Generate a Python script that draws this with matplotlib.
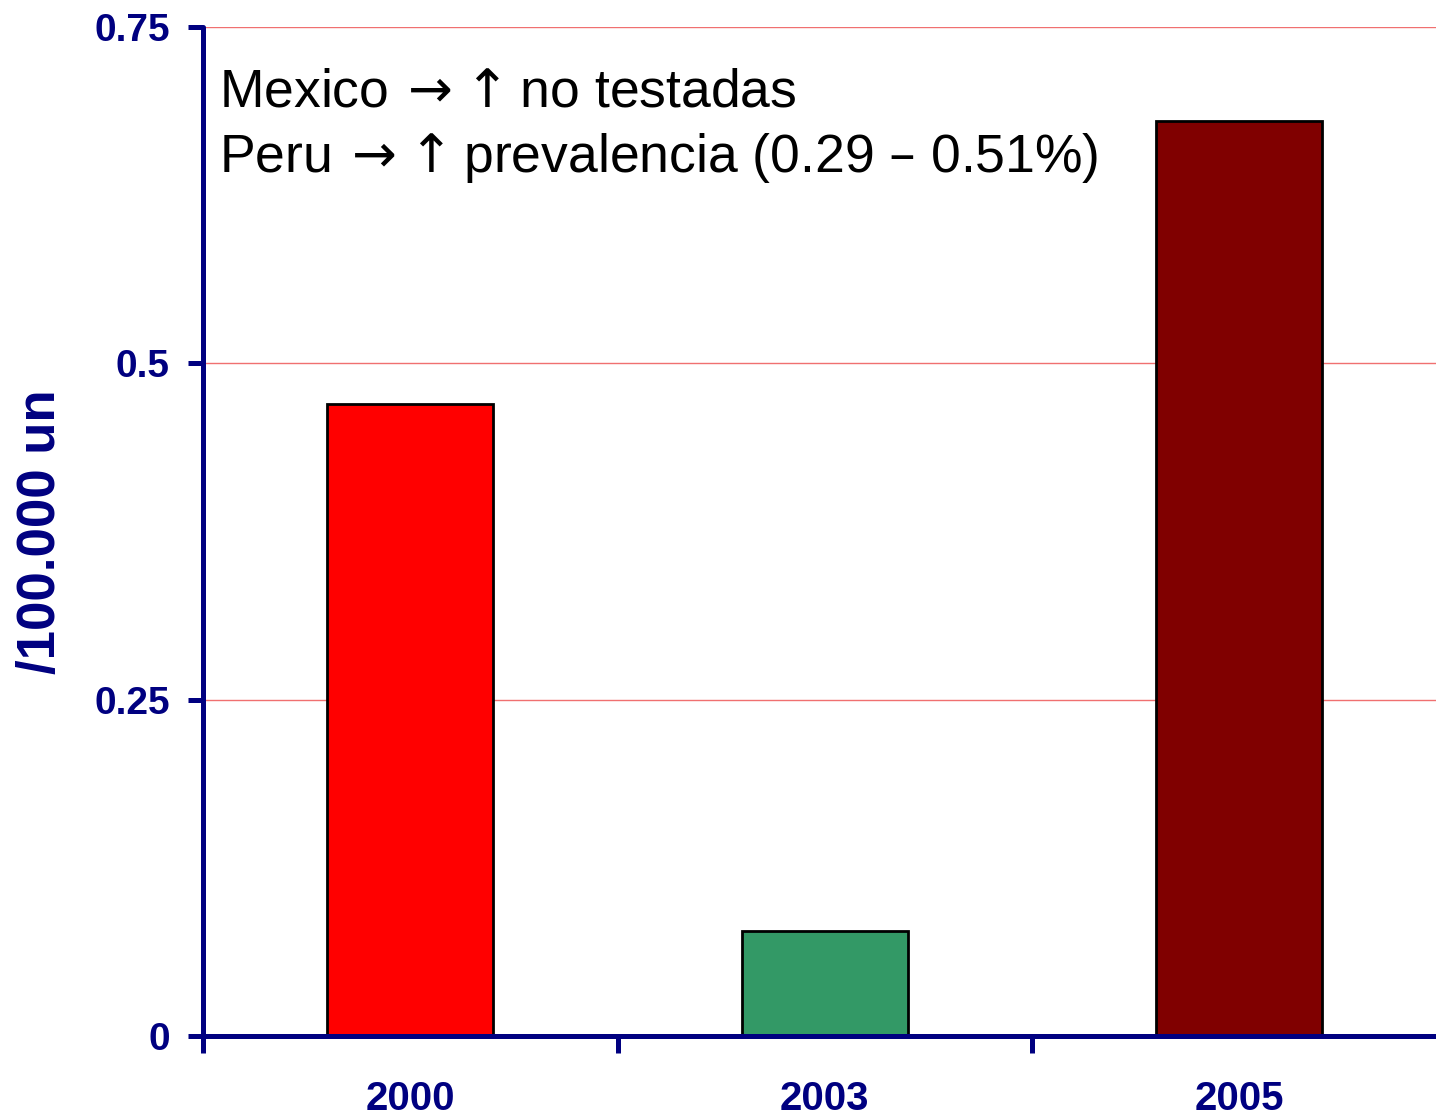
import numpy as np
import matplotlib.pyplot as plt

years = ['2000', '2003', '2005']
values = [0.47, 0.078, 0.68]
bar_colors = ['#ff0000', '#339966', '#800000']
y_ticks = [0, 0.25, 0.5, 0.75]
y_tick_labels = ['0', '0.25', '0.5', '0.75']
notes = [r'Mexico$\,{\rightarrow}\!{\uparrow}$no testadas',
         r'Peru$\,{\rightarrow}\!{\uparrow}$prevalencia (0.29 – 0.51%)']

navy = '#000080'
plt.rcParams['font.family'] = ['Liberation Sans', 'DejaVu Sans']
plt.rcParams['mathtext.fontset'] = 'dejavusans'

fig = plt.figure(figsize=(14.36, 11.15), dpi=100)
ax = fig.add_axes([0.1414, 0.0709, 0.866, 0.9049])

x = np.arange(len(years))
ax.bar(x, values, width=0.4, color=bar_colors, edgecolor='black', linewidth=2, zorder=3)

ax.set_xlim(-0.5, 2.5)
ax.set_ylim(0, 0.75)

# horizontal grid lines
for yv in y_ticks[1:]:
    ax.axhline(yv, color='#f07070', linewidth=1, zorder=1)

for side in ['top', 'right']:
    ax.spines[side].set_visible(False)
for side in ['left', 'bottom']:
    ax.spines[side].set_color(navy)
    ax.spines[side].set_linewidth(3.6)
    ax.spines[side].set_capstyle('round')
    ax.spines[side].set_zorder(4)

ax.set_yticks(y_ticks)
ax.set_yticklabels(y_tick_labels)
ax.tick_params(axis='y', length=11, width=3.6, color=navy, labelcolor=navy,
               labelsize=28, pad=13)
for lab in ax.get_yticklabels():
    lab.set_fontweight('bold')

# category boundaries as ticks, labels centered under bars
ax.set_xticks([-0.5, 0.5, 1.5, 2.5])
ax.set_xticklabels([])
ax.set_xticks(x, minor=True)
ax.set_xticklabels(years, minor=True, fontweight='bold')
ax.tick_params(axis='x', which='major', length=12, width=3.6, color=navy)
ax.tick_params(axis='x', which='minor', length=0, labelcolor=navy, labelsize=29, pad=32)
for t in ax.xaxis.get_major_ticks():
    t.tick1line.set_solid_capstyle('round')
for t in ax.yaxis.get_major_ticks():
    t.tick1line.set_solid_capstyle('round')

ax.set_ylabel('/100.000 un', color=navy, fontsize=38, fontweight='bold', labelpad=20)

ax.text(0.0125, 0.9207, notes[0], transform=ax.transAxes, fontsize=38.5,
        va='baseline', ha='left', color='black')
ax.text(0.0125, 0.8563, notes[1], transform=ax.transAxes, fontsize=38.5,
        va='baseline', ha='left', color='black')

fig.savefig('out.png', dpi=100)
